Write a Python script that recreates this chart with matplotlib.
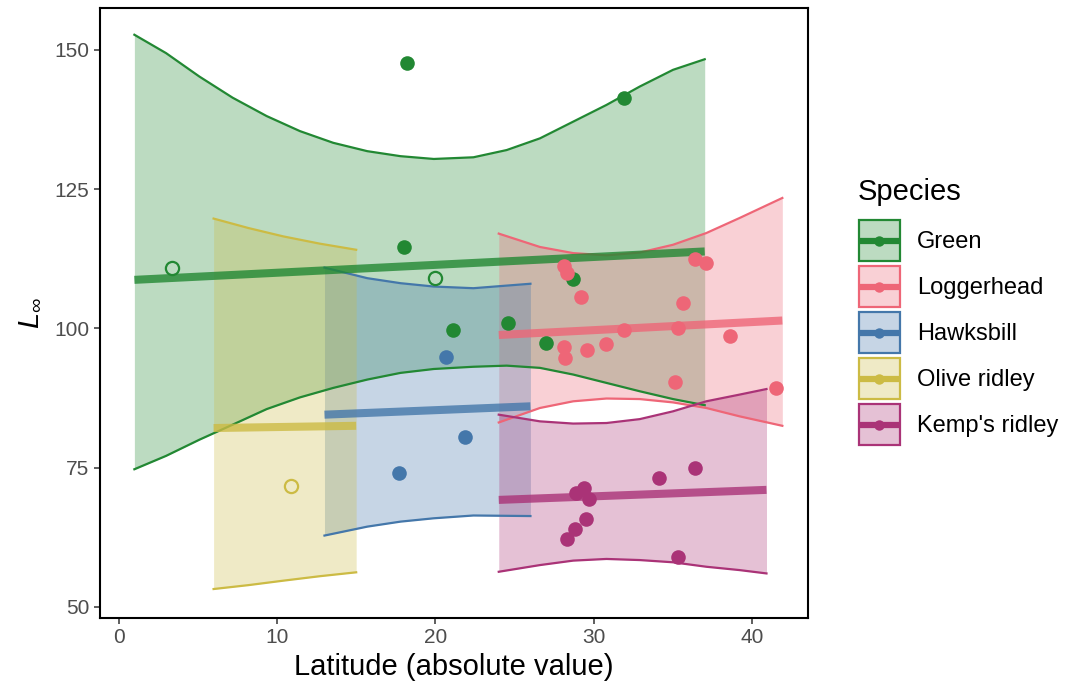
import numpy as np
import matplotlib
matplotlib.use("Agg")
import matplotlib.pyplot as plt
from matplotlib.patches import Rectangle
from matplotlib.lines import Line2D

plt.rcParams['font.family'] = ['Liberation Sans', 'DejaVu Sans']
plt.rcParams['mathtext.fontset'] = 'custom'
plt.rcParams['mathtext.it'] = 'Liberation Sans:italic'
plt.rcParams['mathtext.rm'] = 'Liberation Sans'

species = ["Green", "Loggerhead", "Hawksbill", "Olive ridley", "Kemp's ridley"]
colors = ["#228833", "#EE6677", "#4477AA", "#CCBB44", "#AA3377"]

# credible bands
green_bx = [1, 3.0, 5.1, 7.2, 9.35, 11.45, 13.55, 15.7, 17.8, 19.9, 22.4, 24.5, 26.6, 28.7, 30.8, 32.9, 35.0, 37]
green_hi = [152.7, 149.4, 145.2, 141.4, 138.1, 135.4, 133.3, 131.8, 130.9, 130.4, 130.7, 132.0, 134.1, 137.1, 140.1, 143.4, 146.4, 148.3]
green_lo = [74.7, 77.1, 80.0, 82.7, 85.5, 87.6, 89.3, 90.8, 92.0, 92.7, 93.1, 93.3, 92.9, 91.7, 90.2, 88.7, 87.3, 86.2]

logg_bx = [24, 26.6, 28.7, 30.8, 32.9, 35.0, 37.1, 39.2, 41.9]
logg_hi = [117.0, 114.6, 113.5, 113.1, 113.6, 115.0, 117.1, 119.8, 123.4]
logg_lo = [83.1, 85.7, 86.9, 87.4, 87.3, 86.7, 85.7, 84.2, 82.5]

hawk_bx = [13, 15.7, 17.8, 19.9, 22.4, 26]
hawk_hi = [110.9, 109.0, 108.1, 107.5, 107.2, 108.0]
hawk_lo = [62.8, 64.4, 65.3, 65.9, 66.4, 66.3]

olive_bx = [6, 8.2, 10.4, 12.7, 15]
olive_hi = [119.7, 118.0, 116.5, 115.2, 114.1]
olive_lo = [53.2, 53.9, 54.7, 55.5, 56.2]

kemp_bx = [24, 26.6, 28.7, 30.8, 32.9, 35.0, 37.1, 39.2, 40.9]
kemp_hi = [84.5, 83.3, 82.9, 83.0, 83.7, 85.1, 86.9, 88.1, 89.1]
kemp_lo = [56.3, 57.5, 58.3, 58.6, 58.4, 58.0, 57.2, 56.6, 56.0]

# fitted lines
green_lx, green_ly = [1, 37], [108.7, 113.8]
logg_lx, logg_ly = [24, 41.9], [98.8, 101.4]
hawk_lx, hawk_ly = [13, 26], [84.5, 86.0]
olive_lx, olive_ly = [6, 15], [82.1, 82.5]
kemp_lx, kemp_ly = [24, 40.9], [69.2, 71.0]

# observations (filled)
green_px = [18.2, 31.9, 18.0, 21.1, 24.6, 27.0, 28.7]
green_py = [147.7, 141.4, 114.6, 99.7, 101.0, 97.3, 108.8]
logg_px = [28.1, 28.3, 29.2, 35.6, 36.4, 37.1, 31.9, 35.3, 38.6, 28.1, 28.2, 29.6, 30.8, 35.1, 41.5]
logg_py = [111.1, 109.9, 105.7, 104.5, 112.4, 111.8, 99.7, 100.0, 98.7, 96.7, 94.6, 96.1, 97.2, 90.3, 89.3]
hawk_px = [20.7, 17.7, 21.9]
hawk_py = [94.8, 74.1, 80.5]
olive_px = []
olive_py = []
kemp_px = [34.1, 36.4, 28.9, 29.4, 29.7, 29.5, 28.8, 28.3, 35.3]
kemp_py = [73.2, 74.9, 70.5, 71.3, 69.3, 65.8, 64.0, 62.2, 58.9]

# observations (open)
green_ox, green_oy = [3.35, 20.0], [110.9, 109.1]
olive_ox, olive_oy = [10.9], [71.7]

bands = [(green_bx, green_hi, green_lo), (logg_bx, logg_hi, logg_lo), (hawk_bx, hawk_hi, hawk_lo),
         (olive_bx, olive_hi, olive_lo), (kemp_bx, kemp_hi, kemp_lo)]
lines = [(green_lx, green_ly), (logg_lx, logg_ly), (hawk_lx, hawk_ly), (olive_lx, olive_ly), (kemp_lx, kemp_ly)]
pts = [(green_px, green_py), (logg_px, logg_py), (hawk_px, hawk_py), (olive_px, olive_py), (kemp_px, kemp_py)]
opens = [(green_ox, green_oy, colors[0]), (olive_ox, olive_oy, colors[3])]


class KeyHandler:
    # ggplot-like key: filled box + outline + line with a dot
    def legend_artist(self, legend, orig_handle, fontsize, handlebox):
        c = orig_handle.get_color()
        x0, y0 = handlebox.xdescent, handlebox.ydescent
        w, h = handlebox.width, handlebox.height
        tr = handlebox.get_transform()
        fill = Rectangle((-x0, -y0), w, h, facecolor=c, alpha=0.3, edgecolor='none', transform=tr)
        edge = Rectangle((-x0 + 0.8, -y0 + 0.8), w - 1.6, h - 1.6, facecolor='none', edgecolor=c, lw=1.6, transform=tr)
        ym = h / 2 - y0
        ln = Line2D([-x0 + 0.1 * w, -x0 + 0.9 * w], [ym, ym], color=c, lw=4.5, transform=tr)
        dot = Line2D([-x0 + 0.5 * w], [ym], marker='o', ms=7.5, mew=0, color=c, transform=tr)
        for a in (fill, edge, ln, dot):
            handlebox.add_artist(a)
        return fill


fig = plt.figure(figsize=(10.65, 6.9), dpi=100)
ax = fig.add_axes([100/1065, 1-618/690, 708/1065, 610/690])

for (bx, hi, lo), c in zip(bands, colors):
    ax.fill_between(bx, lo, hi, color=c, alpha=0.3, lw=0, zorder=1)
    ax.plot(bx, hi, color=c, lw=1.6, solid_joinstyle='round', zorder=2)
    ax.plot(bx, lo, color=c, lw=1.6, solid_joinstyle='round', zorder=2)

for (lx, ly), c in zip(lines, colors):
    ax.plot(lx, ly, color=c, lw=5.8, alpha=0.8, solid_capstyle='butt', zorder=3)

for (px, py), c in zip(pts, colors):
    ax.plot(px, py, 'o', color=c, ms=10.5, mew=0, zorder=4)

for ox, oy, c in opens:
    ax.plot(ox, oy, 'o', mfc='none', mec=c, ms=9.5, mew=1.6, zorder=4)

ax.set_xlim(-1.17, 43.52)
ax.set_ylim(48.0, 157.5)
ax.set_xticks([0, 10, 20, 30, 40])
ax.set_yticks([50, 75, 100, 125, 150])
ax.tick_params(labelsize=15, labelcolor='#4D4D4D', color='#333333', length=4, width=1.1)
for s in ax.spines.values():
    s.set_linewidth(1.5)
ax.set_xlabel('Latitude (absolute value)', fontsize=21, labelpad=4)
ax.set_ylabel(r'$L_\infty$', fontsize=21, labelpad=8)

keys = [Line2D([], [], color=c) for c in colors]
leg = fig.legend(keys, species, handler_map={Line2D: KeyHandler()},
                 loc='upper left', bbox_to_anchor=(858/1065, 1-178/690), frameon=False,
                 fontsize=17, title='Species', title_fontsize=21, alignment='left',
                 handlelength=1.82, handleheight=2.43, labelspacing=0.125, handletextpad=0.68,
                 borderpad=0, borderaxespad=0)
leg._legend_box.sep = 9.5  # extra gap under the title

fig.savefig('out.png', dpi=100)
